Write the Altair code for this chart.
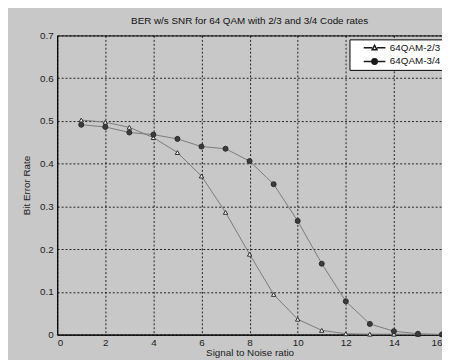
import altair as alt
import pandas as pd

snr = list(range(1, 17))
ber_23 = [0.502, 0.497, 0.485, 0.461, 0.426, 0.371, 0.286, 0.188, 0.094, 0.036,
          0.010, 0.002, 0.001, 0.001, 0.0005, 0.0]
ber_34 = [0.491, 0.486, 0.473, 0.468, 0.458, 0.440, 0.435, 0.406, 0.352, 0.266,
          0.166, 0.078, 0.025, 0.008, 0.002, 0.0005]
series_names = ["64QAM-2/3", "64QAM-3/4"]
x_ticks = [0, 2, 4, 6, 8, 10, 12, 14, 16]
y_ticks = [0, 0.1, 0.2, 0.3, 0.4, 0.5, 0.6, 0.7]

rows = []
for s, vals in zip(series_names, [ber_23, ber_34]):
    for x, y in zip(snr, vals):
        rows.append({"snr": x, "ber": y, "series": s})
df = pd.DataFrame(rows)

FONT = "Liberation Sans"

x_enc = alt.X("snr:Q", scale=alt.Scale(domain=[0, 16], nice=False),
              axis=alt.Axis(values=x_ticks, title="Signal to Noise ratio", format="d",
                            labelPadding=3, titlePadding=0))
y_enc = alt.Y("ber:Q", scale=alt.Scale(domain=[0, 0.7], nice=False),
              axis=alt.Axis(values=y_ticks, title="Bit Error Rate", format="~g",
                            labelPadding=4, titlePadding=8))

base = alt.Chart(df)

lines = base.mark_line(color="#7a7a7a", strokeWidth=1).encode(
    x=x_enc, y=y_enc, detail="series:N"
)

points = base.mark_point(filled=True, stroke="#2a2a2a", strokeWidth=1, opacity=1).encode(
    x=x_enc, y=y_enc,
    shape=alt.Shape("series:N", scale=alt.Scale(domain=series_names, range=["triangle-up", "circle"]), legend=None),
    fill=alt.Fill("series:N", scale=alt.Scale(domain=series_names, range=["white", "#3c3c3c"]), legend=None),
    size=alt.Size("series:N", scale=alt.Scale(domain=series_names, range=[20, 26]), legend=None),
)

# legend glyphs: line segment with marker (custom symbol paths)
tri_path = "M1.09,0H2.64M3.54,0H5.09M3.09,-0.45L3.54,0.38L2.64,0.38Z"
cir_path = "M1.09,0H5.09M2.59,0A0.5,0.5 0 1,0 3.59,0A0.5,0.5 0 1,0 2.59,0Z"

leg = alt.Legend(title=None, orient="none", legendX=297, legendY=4,
                 padding=2, symbolSize=121, labelOffset=26,
                 rowPadding=2, strokeColor="black", fillColor="white",
                 labelFont=FONT, labelFontSize=10, labelColor="#111")

legend_layer = base.transform_filter("datum.ber < 0").mark_point(
    filled=True, stroke="#1a1a1a", strokeWidth=1, opacity=1
).encode(
    shape=alt.Shape("series:N", scale=alt.Scale(domain=series_names, range=[tri_path, cir_path]),
                    legend=leg),
    fill=alt.Fill("series:N", scale=alt.Scale(domain=series_names, range=["white", "#1a1a1a"]),
                  legend=leg),
)

chart = alt.layer(lines, points, legend_layer).resolve_scale(
    shape="independent", fill="independent", size="independent"
).properties(
    width=391, height=304,
    autosize=alt.AutoSizeParams(type="none"),
    padding={"left": 50, "top": 25, "right": 0, "bottom": 30},
    background="#c8c8c8",
    title=alt.TitleParams("BER w/s SNR for 64 QAM with 2/3 and 3/4 Code rates",
                          font=FONT, fontSize=10, fontWeight="normal", color="#111", offset=5),
).configure_view(
    fill="white", stroke="black", strokeWidth=1
).configure_axis(
    labelFont=FONT, labelFontSize=10, labelColor="#222",
    titleFont=FONT, titleFontSize=10, titleColor="#222", titleFontWeight="normal",
    domainColor="black", domainWidth=1, ticks=False,
    grid=True, gridColor="black", gridDash=[2, 2], gridOpacity=0.85, gridWidth=1,
)

chart.save("out.html", embed_options={"renderer": "svg", "actions": False})
